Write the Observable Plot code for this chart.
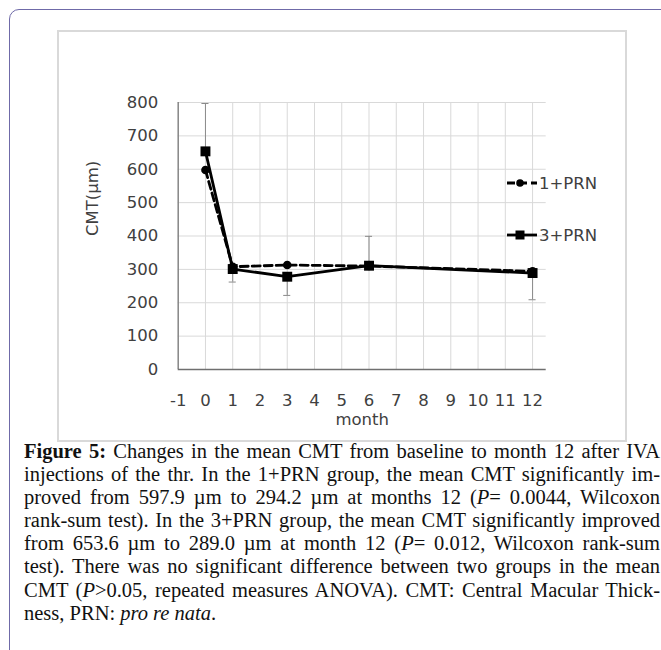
<!DOCTYPE html>
<html><head><meta charset="utf-8">
<script src="https://cdn.jsdelivr.net/npm/d3@7"></script>
<script src="https://cdn.jsdelivr.net/npm/@observablehq/plot@0.6"></script>
<style>
body{margin:0;background:#fff;width:661px;height:650px;overflow:hidden;position:relative;}
#frame{position:absolute;left:9px;top:9px;width:720px;height:720px;border:1.5px solid #6f6aa8;border-radius:10px;box-sizing:border-box;}
#box{position:absolute;left:57px;top:30px;width:570px;height:412px;border:2px solid #d9d9d9;box-sizing:border-box;}
#chart{position:absolute;left:59px;top:32px;}
#chart svg{overflow:visible;}
#caption{position:absolute;left:24px;top:440px;width:636px;font-family:"Liberation Serif","Times New Roman",serif;font-size:20.5px;line-height:23.1px;color:#111;}
.l{text-align:justify;text-align-last:justify;white-space:nowrap;}
.last{text-align:left;text-align-last:left;}
</style>
</head><body>
<div id="frame"></div>
<div id="box"></div>
<div id="chart"></div>
<div id="caption">
<div class="l"><b>Figure 5:</b> Changes in the mean CMT from baseline to month 12 after IVA</div>
<div class="l">injections of the thr. In the 1+PRN group, the mean CMT significantly im-</div>
<div class="l">proved from 597.9 µm to 294.2 µm at months 12 (<i>P</i>= 0.0044, Wilcoxon</div>
<div class="l">rank-sum test). In the 3+PRN group, the mean CMT significantly improved</div>
<div class="l">from 653.6 µm to 289.0 µm at month 12 (<i>P</i>= 0.012, Wilcoxon rank-sum</div>
<div class="l">test). There was no significant difference between two groups in the mean</div>
<div class="l">CMT (<i>P</i>&gt;0.05, repeated measures ANOVA). CMT: Central Macular Thick-</div>
<div class="l last">ness, PRN: <i>pro re nata</i>.</div>
</div>
<script>
// ---- data ----
const months = [0, 1, 3, 6, 12];
const cmt1PRN = [597.9, 308, 313, 310, 294.2];
const cmt3PRN = [653.6, 301, 278, 311, 289.0];
const err3PRNEnd = [797, 262, 222, 399, 209];
const seriesNames = ["1+PRN", "3+PRN"];
const xTicks = [-1, 0, 1, 2, 3, 4, 5, 6, 7, 8, 9, 10, 11, 12];
const yTicks = [0, 100, 200, 300, 400, 500, 600, 700, 800];
const xLabel = "month";
const yLabel = "CMT(µm)";

const d1 = months.map((m, i) => ({month: m, v: cmt1PRN[i]}));
const d3s = months.map((m, i) => ({month: m, v: cmt3PRN[i], e: err3PRNEnd[i]}));

const font = "DejaVu Sans, Verdana, sans-serif";
const txt = "#404040";

const plot = Plot.plot({
  width: 566, height: 408,
  marginLeft: 118.7, marginRight: 79.3, marginTop: 70, marginBottom: 71,
  style: {fontFamily: font, fontSize: "16.5px", color: txt, background: "transparent", overflow: "visible"},
  x: {domain: [-1, 12.5], ticks: xTicks, tickSize: 0, tickPadding: 25, label: null, tickFormat: d => String(d)},
  y: {domain: [0, 800], ticks: yTicks, tickSize: 0, tickPadding: 20, label: null},
  marks: [
    Plot.gridX(xTicks.filter(t => t !== -1), {stroke: "#d9d9d9", strokeOpacity: 1}),
    Plot.gridY(yTicks.filter(t => t !== 0), {stroke: "#d9d9d9", strokeOpacity: 1}),
    Plot.ruleX([-1], {stroke: "#858585", strokeWidth: 1.5}),
    Plot.ruleY([0], {stroke: "#6f6f6f", strokeWidth: 1.5}),
    Plot.axisX({ticks: xTicks, tickSize: 0, tickPadding: 25, fill: txt, tickFormat: d => String(d), label: null}),
    Plot.axisY({ticks: yTicks, tickSize: 0, tickPadding: 20, fill: txt, label: null}),
    Plot.text([xLabel], {frameAnchor: "bottom", lineAnchor: "middle", dy: 50, fill: txt, fontSize: 16.5}),
    Plot.text([yLabel], {frameAnchor: "left", lineAnchor: "middle", dx: -85, rotate: -90, fill: txt, fontSize: 16.5}),
    // error bars
    Plot.ruleX(d3s, {x: "month", y1: "v", y2: "e", stroke: "#8a8a8a", strokeWidth: 1}),
    Plot.ruleY(d3s, {y: "e", x1: d => d.month - 0.13, x2: d => d.month + 0.13, stroke: "#8a8a8a", strokeWidth: 1}),
    // series
    Plot.line(d1, {x: "month", y: "v", stroke: "#000", strokeWidth: 2.8, strokeDasharray: "8,4"}),
    Plot.dot(d1, {x: "month", y: "v", r: 4.3, fill: "#000", stroke: "none"}),
    Plot.line(d3s, {x: "month", y: "v", stroke: "#000", strokeWidth: 2.8}),
    Plot.dot(d3s, {x: "month", y: "v", symbol: "square", r: 5.6, fill: "#000", stroke: "none"})
  ]
});
document.getElementById("chart").appendChild(plot);

// legend (overlaps plot area as in the original)
const svg = d3.select(plot);
const lg = svg.append("g").attr("font-family", font).attr("font-size", 16.5).attr("fill", txt).attr("text-anchor", "start");
const rows = [{name: seriesNames[0], y: 151, dash: "8,4", sym: "circle"}, {name: seriesNames[1], y: 203, dash: null, sym: "square"}];
rows.forEach(r => {
  lg.append("line").attr("x1", 448).attr("x2", 478).attr("y1", r.y).attr("y2", r.y)
    .attr("stroke", "#000").attr("stroke-width", 2.8).attr("stroke-dasharray", r.dash);
  if (r.sym === "circle") lg.append("circle").attr("cx", 461).attr("cy", r.y).attr("r", 3.8).attr("fill", "#000");
  else lg.append("rect").attr("x", 456.5).attr("y", r.y - 4.5).attr("width", 9).attr("height", 9).attr("fill", "#000");
  lg.append("text").attr("x", 480).attr("y", r.y).attr("dy", "0.35em").attr("text-anchor", "start").text(r.name);
});
</script>
</body></html>
